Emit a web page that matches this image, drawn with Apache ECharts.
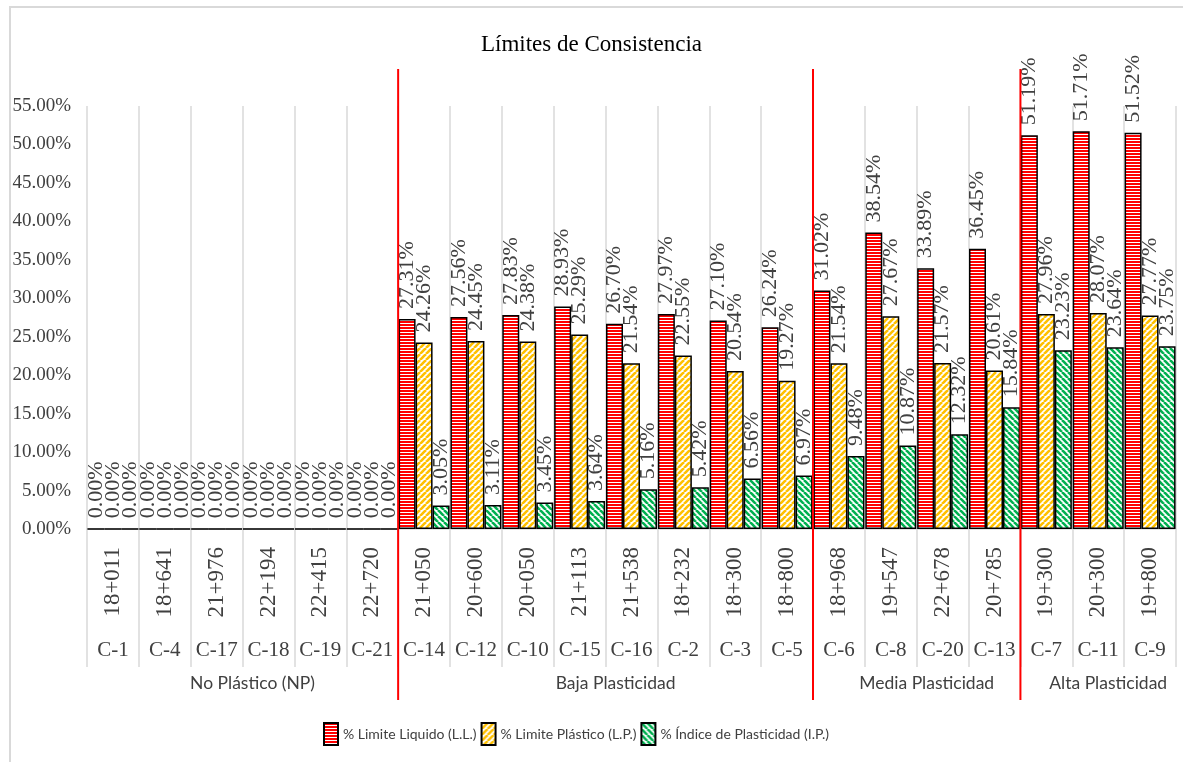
<!DOCTYPE html>
<html>
<head>
<meta charset="utf-8">
<title>Límites de Consistencia</title>
<script src="https://cdn.jsdelivr.net/npm/echarts@6/dist/echarts.min.js"></script>
<style>
  html, body { margin: 0; padding: 0; background: #fff; overflow: hidden; }
  #frame { position: absolute; left: 9px; top: 6px; width: 1300px; height: 900px;
           border-left: 2px solid #d9d9d9; border-top: 2px solid #d9d9d9; }
  #chart { position: absolute; left: 0; top: 0; width: 1183px; height: 762px; }
</style>
</head>
<body>
<div id="frame"></div>
<div id="chart"></div>
<script>
// samples (second label row) and stations (first label row)
const samples = ["C-1", "C-4", "C-17", "C-18", "C-19", "C-21",
  "C-14", "C-12", "C-10", "C-15", "C-16", "C-2", "C-3", "C-5",
  "C-6", "C-8", "C-20", "C-13", "C-7", "C-11", "C-9"];
const stations = ["18+011", "18+641", "21+976", "22+194", "22+415", "22+720",
  "21+050", "20+600", "20+050", "21+113", "21+538", "18+232", "18+300", "18+800",
  "18+968", "19+547", "22+678", "20+785", "19+300", "20+300", "19+800"];

// groups along the axis
const groupNames = ["No Plástico (NP)", "Baja Plasticidad", "Media Plasticidad", "Alta Plasticidad"];
const groupSizes = [6, 8, 4, 3];

// values in %
const limiteLiquido = [0, 0, 0, 0, 0, 0,
  27.31, 27.56, 27.83, 28.93, 26.70, 27.97, 27.10, 26.24,
  31.02, 38.54, 33.89, 36.45, 51.19, 51.71, 51.52];
const limitePlastico = [0, 0, 0, 0, 0, 0,
  24.26, 24.45, 24.38, 25.29, 21.54, 22.55, 20.54, 19.27,
  21.54, 27.67, 21.57, 20.61, 27.96, 28.07, 27.77];
const indicePlasticidad = [0, 0, 0, 0, 0, 0,
  3.05, 3.11, 3.45, 3.64, 5.16, 5.42, 6.56, 6.97,
  9.48, 10.87, 12.32, 15.84, 23.23, 23.64, 23.75];

const seriesNames = ["% Limite Liquido (L.L.)", "% Limite Plástico (L.P.)", "% Índice de Plasticidad (I.P.)"];

const SERIF = "'Liberation Serif', 'Times New Roman', serif";
const SANS = "Lato, 'Open Sans', sans-serif";

// fill patterns like the Excel ones
function hStripes() {
  const c = document.createElement("canvas");
  c.width = 3; c.height = 3;
  const g = c.getContext("2d");
  g.fillStyle = "#ff0000";
  g.fillRect(0, 0, 3, 3);
  g.fillStyle = "#ffffff";
  g.fillRect(0, 2, 3, 1);
  return c;
}
function diagStripes(color, up) {
  const s = 6;
  const c = document.createElement("canvas");
  c.width = s; c.height = s;
  const g = c.getContext("2d");
  g.fillStyle = "#ffffff";
  g.fillRect(0, 0, s, s);
  g.strokeStyle = color;
  g.lineWidth = 2.6;
  for (let k = -1; k <= 1; k++) {
    g.beginPath();
    if (up) { g.moveTo(k * s, s); g.lineTo(k * s + s, 0); }
    else { g.moveTo(k * s, 0); g.lineTo(k * s + s, s); }
    g.stroke();
  }
  return c;
}

const fills = [
  { image: hStripes(), repeat: "repeat" },
  { image: diagStripes("#ffc000", true), repeat: "repeat" },
  { image: diagStripes("#00b050", false), repeat: "repeat" },
];

function barSeries(name, data, fill) {
  return {
    name: name,
    type: "bar",
    data: data,
    barWidth: 17,
    barGap: "0%",
    itemStyle: { color: fill, borderColor: "#000", borderWidth: 1.5 },
    label: {
      show: true,
      position: "top",
      rotate: 90,
      align: "left",
      verticalAlign: "middle",
      distance: 10,
      fontFamily: SERIF,
      fontSize: 22,
      color: "#404040",
      formatter: (p) => p.value.toFixed(2) + "%",
    },
  };
}

const chart = echarts.init(document.getElementById("chart"));

chart.setOption({
  animation: false,
  title: {
    text: "Límites de Consistencia",
    left: "center",
    top: 28,
    textStyle: { fontFamily: SERIF, fontSize: 23, fontWeight: "normal", color: "#000" },
  },
  legend: {
    data: seriesNames,
    left: 318,
    top: 717,
    icon: "rect",
    itemWidth: 14,
    itemHeight: 22,
    itemGap: 4,
    textStyle: { fontFamily: SANS, fontSize: 14, color: "#404040" },
  },
  grid: { left: 87, right: 7, top: 106, bottom: 233 },
  xAxis: [
    {
      type: "category",
      data: stations,
      position: "bottom",
      axisLine: { lineStyle: { color: "#d9d9d9", width: 1.5 } },
      axisTick: { show: true, interval: 0, length: 138, lineStyle: { color: "#d9d9d9", width: 1.5 } },
      splitLine: { show: true, interval: 0, lineStyle: { color: "#d9d9d9", width: 1.5 } },
      axisLabel: { interval: 0, rotate: 90, margin: 18, fontFamily: SERIF, fontSize: 23, color: "#404040" },
    },
    {
      type: "category",
      data: samples,
      position: "bottom",
      axisLine: { show: false },
      axisTick: { show: false },
      splitLine: { show: false },
      axisLabel: { interval: 0, margin: 111, fontFamily: SERIF, fontSize: 21, color: "#404040" },
    },
  ],
  yAxis: {
    type: "value",
    min: 0,
    max: 55,
    interval: 5,
    axisLine: { show: false },
    axisTick: { show: false },
    splitLine: { show: false },
    axisLabel: {
      margin: 16,
      fontFamily: SERIF,
      fontSize: 19,
      color: "#404040",
      formatter: (v) => v.toFixed(2) + "%",
    },
  },
  series: [
    barSeries(seriesNames[0], limiteLiquido, fills[0]),
    barSeries(seriesNames[1], limitePlastico, fills[1]),
    barSeries(seriesNames[2], indicePlasticidad, fills[2]),
  ],
});

// red separators and group names, placed from the category scale
const c0 = chart.convertToPixel({ xAxisIndex: 0 }, 0);
const c1 = chart.convertToPixel({ xAxisIndex: 0 }, 1);
const step = c1 - c0;
const edge = (k) => c0 + (k - 0.5) * step;

const graphics = [];
let start = 0;
groupSizes.forEach((n, gi) => {
  const end = start + n;
  graphics.push({
    type: "text",
    x: (edge(start) + edge(end)) / 2 + 10,
    y: 683,
    z: 10,
    style: {
      text: groupNames[gi],
      font: "17.5px " + SANS,
      fill: "#404040",
      align: "center",
      verticalAlign: "middle",
    },
  });
  if (gi < groupSizes.length - 1) {
    graphics.push({
      type: "line",
      z: 10,
      shape: { x1: edge(end), y1: 69, x2: edge(end), y2: 700 },
      style: { stroke: "#ff0000", lineWidth: 2 },
    });
  }
  start = end;
});

chart.setOption({ graphic: graphics });
</script>
</body>
</html>
